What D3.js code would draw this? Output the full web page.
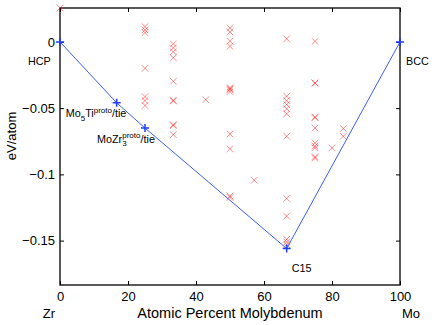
<!DOCTYPE html>
<html>
<head>
<meta charset="utf-8">
<script src="https://cdn.jsdelivr.net/npm/d3@7"></script>
<style>
  body { margin: 0; background: #fff; }
  text { font-family: "Liberation Sans", Arial, Helvetica, sans-serif; fill: #000; }
</style>
</head>
<body>
<div id="chart"></div>
<script>
// x: atomic percent Mo, y: formation energy (eV/atom)
const xTicks = [0, 20, 40, 60, 80, 100];
const yTicks = [0, -0.05, -0.1, -0.15];
const yTickLabels = ["0", "\u22120.05", "\u22120.1", "\u22120.15"];

// convex hull (blue)
const hullX = [0, 16.67, 25, 66.67, 100];
const hullY = [0, -0.046, -0.065, -0.156, 0];

// all computed structures (red crosses)
const structX = [
  0,
  25, 25, 25, 25, 25, 25, 25,
  33.33, 33.33, 33.33, 33.33, 33.33, 33.33, 33.33, 33.33, 33.33, 33.33,
  42.86,
  50, 50, 50, 50, 50, 50, 50, 50, 50, 50, 50, 50,
  57.14,
  66.67, 66.67, 66.67, 66.67, 66.67, 66.67, 66.67, 66.67, 66.67, 66.67, 66.67, 66.67,
  75, 75, 75, 75, 75, 75, 75, 75, 75, 75, 75,
  80,
  83.33, 83.33
];
const structY = [
  0.0256,
  0.0115, 0.009, 0.007, -0.020, -0.0413, -0.0443, -0.048,
  -0.0015, -0.0045, -0.0075, -0.012, -0.0297, -0.0440, -0.0446, -0.0625, -0.0632, -0.070,
  -0.0436,
  0.0106, 0.0075, 0.0005, -0.0033, -0.0345, -0.0355, -0.036, -0.0375, -0.0695, -0.0807, -0.1163, -0.1174,
  -0.1044,
  0.0023, -0.041, -0.0443, -0.0473, -0.0505, -0.0543, -0.0712, -0.1182, -0.1315, -0.149, -0.151, -0.153,
  0.0004, -0.031, -0.0312, -0.0568, -0.0572, -0.065, -0.0762, -0.0785, -0.080, -0.0867, -0.0878,
  -0.080,
  -0.0654, -0.0712
];

const width = 436, height = 325;
const margin = { top: 8, right: 36, bottom: 40, left: 60 };

const svg = d3.select("#chart").append("svg")
  .attr("width", width)
  .attr("height", height);

const x = d3.scaleLinear().domain([0, 100]).range([margin.left, width - margin.right]);
const y = d3.scaleLinear().domain([-0.1835, 0.0256]).range([height - margin.bottom, margin.top]);

const plotTop = margin.top, plotBottom = height - margin.bottom;
const plotLeft = margin.left, plotRight = width - margin.right;

// axes with inward ticks (box style)
const tickLen = 4;
svg.append("g")
  .attr("transform", `translate(0,${plotBottom})`)
  .call(d3.axisBottom(x).tickValues(xTicks).tickSize(-tickLen).tickPadding(7))
  .call(g => g.select(".domain").remove());
svg.append("g")
  .attr("transform", `translate(0,${plotTop})`)
  .call(d3.axisTop(x).tickValues(xTicks).tickSize(-tickLen).tickFormat(""))
  .call(g => g.select(".domain").remove());
svg.append("g")
  .attr("transform", `translate(${plotLeft},0)`)
  .call(d3.axisLeft(y).tickValues(yTicks).tickSize(-tickLen).tickPadding(5)
    .tickFormat((d, i) => yTickLabels[i]))
  .call(g => g.select(".domain").remove());
svg.append("g")
  .attr("transform", `translate(${plotRight},0)`)
  .call(d3.axisRight(y).tickValues(yTicks).tickSize(-tickLen).tickFormat(""))
  .call(g => g.select(".domain").remove());

svg.selectAll(".tick text")
  .style("font-size", "13px")
  .style("font-family", "'Liberation Sans', Arial, sans-serif");
svg.selectAll(".tick line").attr("stroke", "#000");

svg.append("rect")
  .attr("x", plotLeft).attr("y", plotTop)
  .attr("width", plotRight - plotLeft).attr("height", plotBottom - plotTop)
  .attr("fill", "none").attr("stroke", "#000").attr("stroke-width", 1.3);

// red crosses
const cs = 3.3;
svg.append("g").selectAll("path")
  .data(structX.map((d, i) => [d, structY[i]]))
  .enter().append("path")
  .attr("d", d => {
    const px = x(d[0]), py = y(d[1]);
    return `M${px - cs},${py - cs}L${px + cs},${py + cs}M${px - cs},${py + cs}L${px + cs},${py - cs}`;
  })
  .attr("stroke", "#ff0000")
  .attr("stroke-opacity", 0.45)
  .attr("stroke-width", 1)
  .attr("fill", "none");

// hull line
const line = d3.line().x((d, i) => x(hullX[i])).y(d => y(d));
svg.append("path")
  .datum(hullY)
  .attr("d", line)
  .attr("fill", "none")
  .attr("stroke", "#3d5cff")
  .attr("stroke-width", 1);

// hull markers
const ps = 4;
svg.append("g").selectAll("path")
  .data(hullX.map((d, i) => [d, hullY[i]]))
  .enter().append("path")
  .attr("d", d => {
    const px = x(d[0]), py = y(d[1]);
    return `M${px - ps},${py}L${px + ps},${py}M${px},${py - ps}L${px},${py + ps}`;
  })
  .attr("stroke", "#1f3dff")
  .attr("stroke-width", 1.5);

// hull labels
const lf = "10.8px", sf = "8px";
function simpleLabel(i, dx, dy, txt) {
  svg.append("text")
    .attr("x", x(hullX[i]) + dx)
    .attr("y", y(hullY[i]) + dy)
    .style("font-size", lf)
    .text(txt);
}
simpleLabel(0, -32, 23, "HCP");
simpleLabel(4, 6, 23, "BCC");
simpleLabel(3, 5, 23, "C15");

// Mo5Ti: subscript sits between the element symbols
const t1 = svg.append("text")
  .attr("x", x(hullX[1]) - 51)
  .attr("y", y(hullY[1]) + 14.5)
  .style("font-size", lf);
t1.append("tspan").text("Mo");
t1.append("tspan").attr("dy", 3.5).style("font-size", sf).text("5");
t1.append("tspan").attr("dy", -3.5).text("Ti");
t1.append("tspan").attr("dy", -4.5).style("font-size", sf).text("proto");
t1.append("tspan").attr("dy", 4.5).text("/tie");

// MoZr3: subscript and superscript stacked
const t2 = svg.append("text")
  .attr("x", x(hullX[2]) - 48)
  .attr("y", y(hullY[2]) + 14.5)
  .style("font-size", lf);
t2.append("tspan").text("MoZr");
t2.append("tspan").attr("dy", 3.5).style("font-size", sf).text("3");
t2.append("tspan").attr("dx", -4.4).attr("dy", -8).style("font-size", sf).text("proto");
t2.append("tspan").attr("dy", 4.5).text("/tie");

// axis labels
svg.append("text")
  .attr("x", 230)
  .attr("y", 318)
  .attr("text-anchor", "middle")
  .style("font-size", "14.5px")
  .text("Atomic Percent Molybdenum");
svg.append("text")
  .attr("x", x(0) - 11)
  .attr("y", 318)
  .attr("text-anchor", "middle")
  .style("font-size", "13px")
  .text("Zr");
svg.append("text")
  .attr("x", x(100) + 11)
  .attr("y", 318)
  .attr("text-anchor", "middle")
  .style("font-size", "13px")
  .text("Mo");
svg.append("text")
  .attr("transform", `translate(16,136) rotate(-90)`)
  .attr("text-anchor", "middle")
  .style("font-size", "13px")
  .text("eV/atom");
</script>
</body>
</html>
